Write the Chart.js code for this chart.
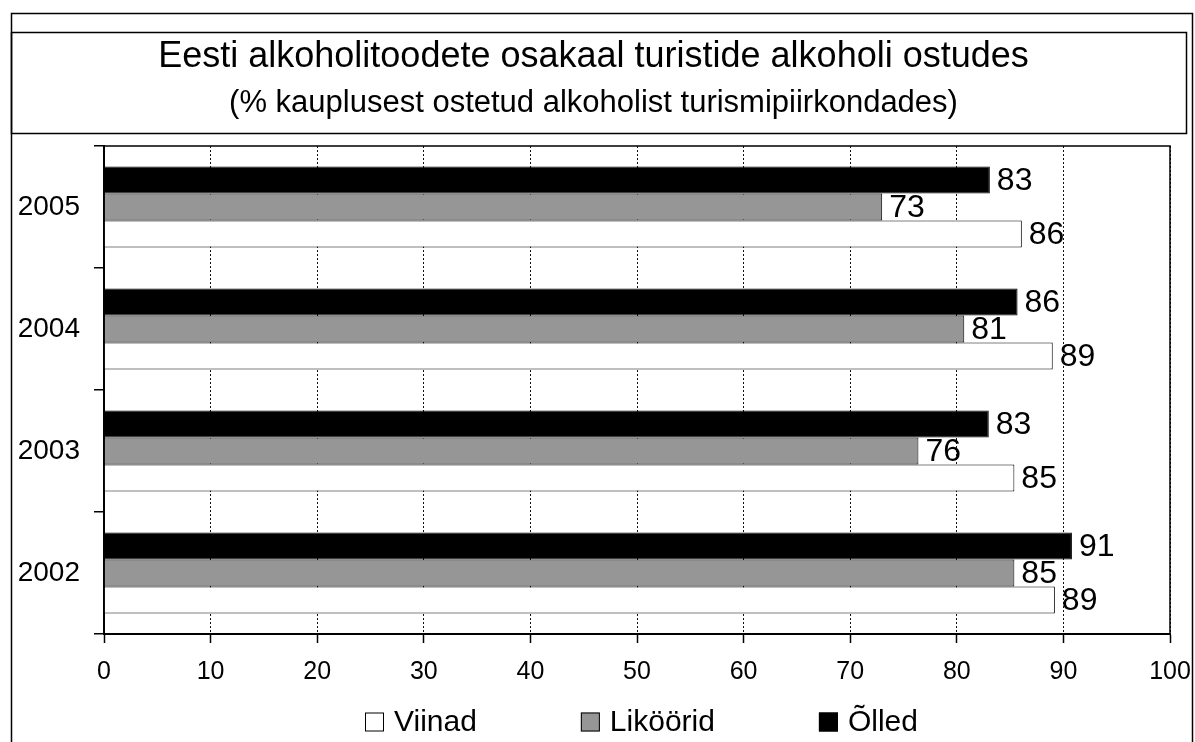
<!DOCTYPE html>
<html>
<head>
<meta charset="utf-8">
<script src="https://cdn.jsdelivr.net/npm/chart.js@4/dist/chart.umd.min.js"></script>
<style>
  html, body { margin: 0; padding: 0; background: #fff; }
  canvas { display: block; }
</style>
</head>
<body>
<canvas id="myChart" width="1195" height="742"></canvas>
<script>
// categories, top to bottom
var years = ['2005', '2004', '2003', '2002'];
// series values (% of alcohol bought in shops)
var olled = [83.1, 85.7, 83.0, 90.8];
var likoorid = [73.0, 80.7, 76.4, 85.4];
var viinad = [86.1, 89.0, 85.4, 89.2];
// x axis ticks
var xTicks = [0, 10, 20, 30, 40, 50, 60, 70, 80, 90, 100];

var FONT = "'Liberation Sans', Arial, sans-serif";

// outer frame and the title box
var framePlugin = {
    id: 'frame',
    beforeDraw: function (chart) {
        var ctx = chart.ctx;
        ctx.save();
        ctx.fillStyle = '#fff';
        ctx.fillRect(0, 0, chart.width, chart.height);
        ctx.strokeStyle = '#000';
        ctx.lineWidth = 1.5;
        ctx.strokeRect(11.5, 13.5, 1181, 760);
        ctx.strokeRect(11.5, 32.5, 1175, 101);
        ctx.restore();
    },
    afterDraw: function (chart) {
        var a = chart.chartArea;
        var ctx = chart.ctx;
        ctx.save();
        ctx.strokeStyle = '#000';
        ctx.lineWidth = 1.5;
        ctx.strokeRect(a.left, a.top, a.right - a.left, a.bottom - a.top);
        ctx.restore();
    }
};

// value labels right of each bar
var valueLabels = {
    id: 'valueLabels',
    afterDatasetsDraw: function (chart) {
        var ctx = chart.ctx;
        ctx.save();
        ctx.font = '32px ' + FONT;
        ctx.fillStyle = '#000';
        ctx.textAlign = 'left';
        ctx.textBaseline = 'middle';
        chart.data.datasets.forEach(function (ds, i) {
            chart.getDatasetMeta(i).data.forEach(function (bar, j) {
                ctx.fillText(String(Math.round(ds.data[j])), bar.x + 7, bar.y + 1);
            });
        });
        ctx.restore();
    }
};

// legend under the axis, in Viinad / Liköörid / Õlled order
var bottomLegend = {
    id: 'bottomLegend',
    afterDraw: function (chart) {
        var ctx = chart.ctx;
        var x = 365, y = 722, box = 19, gap = 104;
        ctx.save();
        ctx.font = '30px ' + FONT;
        ctx.textBaseline = 'middle';
        ctx.textAlign = 'left';
        chart.data.datasets.slice().reverse().forEach(function (ds) {
            ctx.fillStyle = ds.backgroundColor;
            ctx.fillRect(x, y - box / 2, box, box);
            ctx.strokeStyle = '#000';
            ctx.lineWidth = 1;
            ctx.strokeRect(x + 0.5, y - box / 2 + 0.5, box - 1, box - 1);
            ctx.fillStyle = '#000';
            ctx.fillText(ds.label, x + box + 10, y + 1);
            x += box + 10 + ctx.measureText(ds.label).width + gap;
        });
        ctx.restore();
    }
};

var ctx = document.getElementById('myChart').getContext('2d');
var myChart = new Chart(ctx, {
    type: 'bar',
    data: {
        labels: years,
        datasets: [
            { label: 'Õlled', data: olled, backgroundColor: '#000000' },
            { label: 'Liköörid', data: likoorid, backgroundColor: '#969696' },
            { label: 'Viinad', data: viinad, backgroundColor: '#ffffff' }
        ]
    },
    options: {
        indexAxis: 'y',
        responsive: false,
        animation: false,
        devicePixelRatio: 1,
        datasets: {
            bar: {
                borderColor: '#000',
                borderWidth: 1,
                categoryPercentage: 0.664,
                barPercentage: 1
            }
        },
        layout: { padding: { left: 17, right: 25, top: 0, bottom: 58 } },
        plugins: {
            legend: { display: false },
            tooltip: { enabled: false },
            title: {
                display: true,
                text: 'Eesti alkoholitoodete osakaal turistide alkoholi ostudes',
                color: '#000',
                font: { family: FONT, size: 36, weight: 'normal' },
                padding: { top: 35.4, bottom: 0 }
            },
            subtitle: {
                display: true,
                text: '(% kauplusest ostetud alkoholist turismipiirkondades)',
                color: '#000',
                font: { family: FONT, size: 31, weight: 'normal' },
                padding: { top: 5.8, bottom: 24.4 }
            }
        },
        scales: {
            x: {
                min: 0,
                max: 100,
                afterBuildTicks: function (scale) {
                    scale.ticks = xTicks.map(function (v) { return { value: v }; });
                },
                afterFit: function (scale) {
                    scale.height = 50;
                    scale.paddingLeft = 0;
                    scale.paddingRight = 0;
                },
                ticks: {
                    color: '#000',
                    font: { family: FONT, size: 25 },
                    padding: 14,
                    maxRotation: 0,
                    autoSkip: false
                },
                grid: {
                    color: '#111',
                    lineWidth: 1,
                    tickLength: 9,
                    tickColor: '#000',
                    tickWidth: 1.5,
                    tickBorderDash: []
                },
                border: { color: '#000', width: 2, dash: [2, 2] }
            },
            y: {
                afterFit: function (scale) { scale.width = 87; },
                ticks: {
                    color: '#000',
                    font: { family: FONT, size: 28 },
                    padding: 14
                },
                grid: {
                    offset: true,
                    drawOnChartArea: false,
                    tickLength: 10,
                    color: '#000',
                    lineWidth: 1.5
                },
                border: { color: '#000', width: 2 }
            }
        }
    },
    plugins: [framePlugin, valueLabels, bottomLegend]
});
</script>
</body>
</html>
